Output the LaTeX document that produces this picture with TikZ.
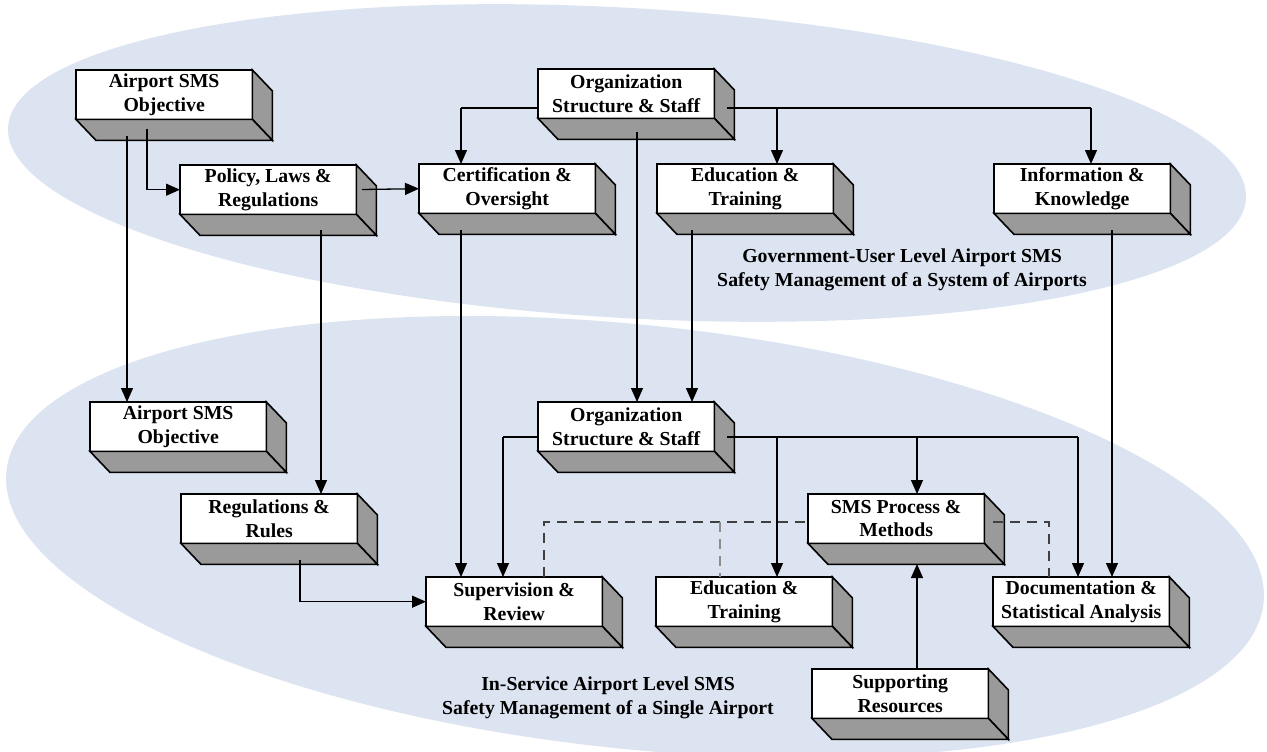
\documentclass[tikz,border=0pt]{standalone}
\usepackage{fontspec}
\setmainfont{Liberation Serif}
\usetikzlibrary{arrows.meta,calc}
\definecolor{ellblue}{HTML}{DCE3F1}
\definecolor{sidegray}{HTML}{9A9A9A}
\newcommand{\threedbox}[4]{%
  \node[fbox] (#1) at (#2,#3) {#4};
  \fill[sidegray,draw=black,line width=1.6pt,line join=miter]
    (#1.north east) -- ++(20,21) -- ($(#1.south east)+(20,21)$) -- (#1.south east) -- cycle;
  \fill[sidegray,draw=black,line width=1.6pt,line join=miter]
    (#1.south west) -- (#1.south east) -- ++(20,21) -- ($(#1.south west)+(20,21)$) -- cycle;
  \draw[line width=1.6pt] (#1.north west) rectangle (#1.south east);
}
\begin{document}
\begin{tikzpicture}[x=1pt,y=-1pt,
  fbox/.style={anchor=north west,fill=white,minimum width=176pt,minimum height=49pt,
    inner sep=0pt,align=center,font=\fontsize{19.8}{23.5}\selectfont\bfseries},
  lbl/.style={align=center,font=\fontsize{19.8}{23.5}\selectfont\bfseries},
  conn/.style={line width=1.3pt},
  arr/.style={conn,-{Triangle[length=14pt,width=12pt]}},
  dsh/.style={line width=1.5pt,dash pattern=on 10pt off 7pt,draw=black!75},
  dshl/.style={line width=1.5pt,dash pattern=on 10pt off 7pt,draw=black!45}]
\useasboundingbox (0,0) rectangle (1267,752);
\fill[white] (0,0) rectangle (1267,752);
% ellipses
\fill[ellblue,rotate around={-3.3:(627,163)}] (627,163) ellipse [x radius=620,y radius=155];
\fill[ellblue,rotate around={-6:(635,537)}] (635,537) ellipse [x radius=632,y radius=212];
% boxes
\threedbox{obja}{76}{70}{Airport SMS\\Objective}
\threedbox{policy}{180}{165}{Policy, Laws \&\\Regulations}
\threedbox{orga}{538}{69}{Organization\\Structure \& Staff}
\threedbox{cert}{419}{164}{Certification \&\\Oversight}
\threedbox{edua}{657}{164}{Education \&\\Training}
\threedbox{info}{994}{164}{Information \&\\Knowledge}
\threedbox{objb}{90}{402}{Airport SMS\\Objective}
\threedbox{regs}{181}{494}{Regulations \&\\Rules}
\threedbox{orgb}{538}{402}{Organization\\Structure \& Staff}
\threedbox{sms}{808}{494}{SMS Process \&\\Methods}
\threedbox{sup}{426}{577}{Supervision \&\\Review}
\threedbox{edub}{656}{577}{Education \&\\Training}
\threedbox{doc}{993}{577}{Documentation \&\\Statistical Analysis}
\threedbox{supp}{812}{669}{Supporting\\Resources}
% labels
\node[lbl] (glabel) at (902,270) {Government-User Level Airport SMS\\Safety Management of a System of Airports};
\node[lbl] (ilabel) at (608,698) {In-Service Airport Level SMS\\Safety Management of a Single Airport};
% connector start points
\coordinate (s1) at (127,136);
\coordinate (s2) at (147,129);
\coordinate (s3) at (362,189.5);
\coordinate (s4) at (321,230);
\coordinate (s5) at (538,108);
\coordinate (j5) at (461,108);
\coordinate (s6) at (727,108);
\coordinate (j6) at (1091,108);
\coordinate (b6) at (777,108);
\coordinate (s7) at (637,132);
\coordinate (s8) at (461,230);
\coordinate (s9) at (692,230);
\coordinate (s10) at (1112,230);
\coordinate (s11) at (538,437);
\coordinate (j11) at (503,437);
\coordinate (s12) at (727,437);
\coordinate (j12) at (1078,437);
\coordinate (b12a) at (917,437);
\coordinate (b12b) at (777,437);
\coordinate (s13) at (300,560);
\coordinate (s14) at (917,669);
\coordinate (t14) at (917,564);
\coordinate (d1) at (544,577);
\coordinate (d1j) at (544,522);
\coordinate (d2) at (720,522);
\coordinate (d3) at (993,522);
\coordinate (d3j) at (1049,522);
% connectors
\draw[arr] (s1) -- (s1 |- objb.north);
\draw[arr] (s2) |- (policy.west);
\draw[arr] (s3) -- (cert.west);
\draw[arr] (s4) -- (s4 |- regs.north);
\draw[conn] (s5) -- (j5);
\draw[arr] (j5) -- (j5 |- cert.north);
\draw[conn] (s6) -- (j6);
\draw[arr] (j6) -- (j6 |- info.north);
\draw[arr] (b6) -- (b6 |- edua.north);
\draw[arr] (s7) -- (s7 |- orgb.north);
\draw[arr] (s8) -- (s8 |- sup.north);
\draw[arr] (s9) -- (s9 |- orgb.north);
\draw[arr] (s10) -- (s10 |- doc.north);
\draw[conn] (s11) -- (j11);
\draw[arr] (j11) -- (j11 |- sup.north);
\draw[conn] (s12) -- (j12);
\draw[arr] (j12) -- (j12 |- doc.north);
\draw[arr] (b12a) -- (b12a |- sms.north);
\draw[arr] (b12b) -- (b12b |- edub.north);
\draw[arr] (s13) |- (sup.west);
\draw[arr] (s14) -- (t14);
% dashed
\draw[dsh] (d1) -- (d1j) -- (d1j -| sms.west);
\draw[dshl] (d2) -- (d2 |- edub.north);
\draw[dsh] (d3) -- (d3j) -- (d3j |- doc.north);
\end{tikzpicture}
\end{document}
